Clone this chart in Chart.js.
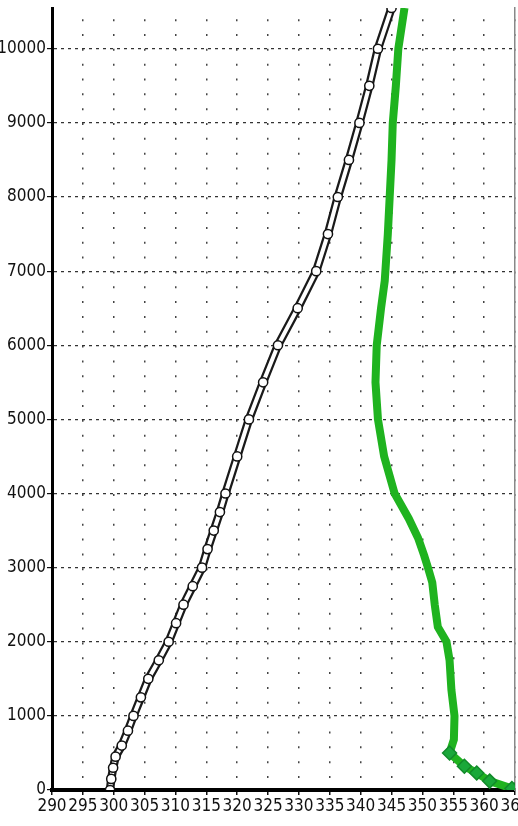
<!DOCTYPE html>
<html>
<head>
<meta charset="utf-8">
<script src="https://cdn.jsdelivr.net/npm/chart.js@4/dist/chart.umd.min.js"></script>
<style>
  html, body { margin: 0; padding: 0; background: #fff; overflow: hidden; }
  canvas { display: block; }
</style>
</head>
<body>
<canvas id="profileChart" width="518" height="826"></canvas>
<script>
// altitude (m) and potential temperature (K)
const thetaAlt = [0, 150, 300, 450, 600, 800, 1000, 1250, 1500, 1750, 2000, 2250, 2500, 2750, 3000, 3250, 3500, 3750, 4000, 4500, 5000, 5500, 6000, 6500, 7000, 7500, 8000, 8500, 9000, 9500, 10000, 10550];
const thetaVal = [299.4, 299.6, 299.9, 300.3, 301.3, 302.3, 303.2, 304.4, 305.6, 307.3, 308.9, 310.1, 311.3, 312.8, 314.3, 315.2, 316.2, 317.2, 318.1, 320.0, 321.9, 324.2, 326.6, 329.8, 332.8, 334.7, 336.3, 338.1, 339.8, 341.4, 342.8, 345.0];

// equivalent potential temperature (green)
const thetaEAlt = [0, 20, 120, 230, 320, 500, 680, 1000, 1350, 1750, 2000, 2200, 2500, 2800, 3000, 3160, 3400, 3660, 4000, 4500, 5000, 5500, 6000, 6500, 6870, 7500, 8000, 8500, 9000, 9500, 10000, 10550];
const thetaEVal = [365.0, 364.5, 360.9, 358.8, 356.8, 354.4, 355.1, 355.2, 354.7, 354.4, 353.9, 352.5, 352.0, 351.6, 350.9, 350.3, 349.3, 347.8, 345.5, 343.8, 342.8, 342.4, 342.6, 343.3, 343.9, 344.4, 344.7, 345.0, 345.2, 345.7, 346.1, 347.1];

const xTicks = [290, 295, 300, 305, 310, 315, 320, 325, 330, 335, 340, 345, 350, 355, 360, 365];
const yTicks = [0, 1000, 2000, 3000, 4000, 5000, 6000, 7000, 8000, 9000, 10000];

function toPoints(xs, ys) {
    return xs.map((v, i) => ({ x: v, y: ys[i] }));
}

// condensed face of DejaVu Sans (font-stretch goes into the weight slot of the font string)
const labelFont = { family: "'DejaVu Sans', sans-serif", size: 17, weight: 'condensed' };

const ctx = document.getElementById('profileChart').getContext('2d');
new Chart(ctx, {
    type: 'scatter',
    data: {
        datasets: [
            {
                // green line, diamonds only show near the ground
                data: toPoints(thetaEVal, thetaEAlt),
                showLine: true,
                borderColor: '#1fb31f',
                borderWidth: 8,
                pointStyle: 'rectRot',
                pointRadius: c => (c.raw && c.raw.y < 600 ? 7 : 0),
                pointBorderWidth: 1.5,
                pointBorderColor: '#128a2a',
                pointBackgroundColor: '#1aa83a',
                tension: 0,
                order: 1
            },
            {
                // white core + open circles
                data: toPoints(thetaVal, thetaAlt),
                showLine: true,
                borderColor: '#ffffff',
                borderWidth: 4,
                pointStyle: 'circle',
                pointRadius: 4.6,
                pointBorderWidth: 1.5,
                pointBorderColor: '#111',
                pointBackgroundColor: '#fff',
                tension: 0,
                order: 2
            },
            {
                // black outline of the chain
                data: toPoints(thetaVal, thetaAlt),
                showLine: true,
                borderColor: '#1a1a1a',
                borderWidth: 8.5,
                pointRadius: 0,
                tension: 0,
                order: 3
            }
        ]
    },
    options: {
        responsive: false,
        animation: false,
        layout: { autoPadding: false, padding: { top: 8, right: 3, left: 0, bottom: 0 } },
        plugins: {
            legend: { display: false },
            tooltip: { enabled: false }
        },
        scales: {
            x: {
                type: 'linear',
                min: 290,
                max: 365,
                afterBuildTicks: s => { s.ticks = xTicks.map(v => ({ value: v })); },
                afterFit: s => { s.height = 36; s.paddingLeft = 0; s.paddingRight = 0; },
                ticks: {
                    autoSkip: false,
                    maxRotation: 0,
                    color: '#111',
                    font: labelFont,
                    padding: 1,
                    callback: v => String(v)
                },
                grid: {
                    color: '#444',
                    lineWidth: 1.5,
                    tickColor: '#111',
                    tickLength: 5
                },
                border: { color: '#000', width: 4, dash: [2, 12.84], dashOffset: 3.7 }
            },
            y: {
                type: 'linear',
                min: 0,
                max: 10550,
                afterBuildTicks: s => { s.ticks = yTicks.map(v => ({ value: v })); },
                afterFit: s => { s.width = 52; s.paddingTop = 0; s.paddingBottom = 0; },
                ticks: {
                    color: '#111',
                    font: labelFont,
                    padding: 1,
                    callback: v => String(v)
                },
                grid: {
                    color: '#333',
                    lineWidth: 1.2,
                    tickColor: '#111',
                    tickLength: 5
                },
                border: { color: '#000', width: 3, dash: [3, 4] }
            },
            y2: {
                type: 'linear',
                position: 'right',
                min: 0,
                max: 10550,
                afterFit: s => { s.width = 0; },
                ticks: { display: false },
                grid: { drawOnChartArea: false, drawTicks: false },
                border: { color: '#888', width: 1.5 }
            }
        }
    }
});
</script>
</body>
</html>
